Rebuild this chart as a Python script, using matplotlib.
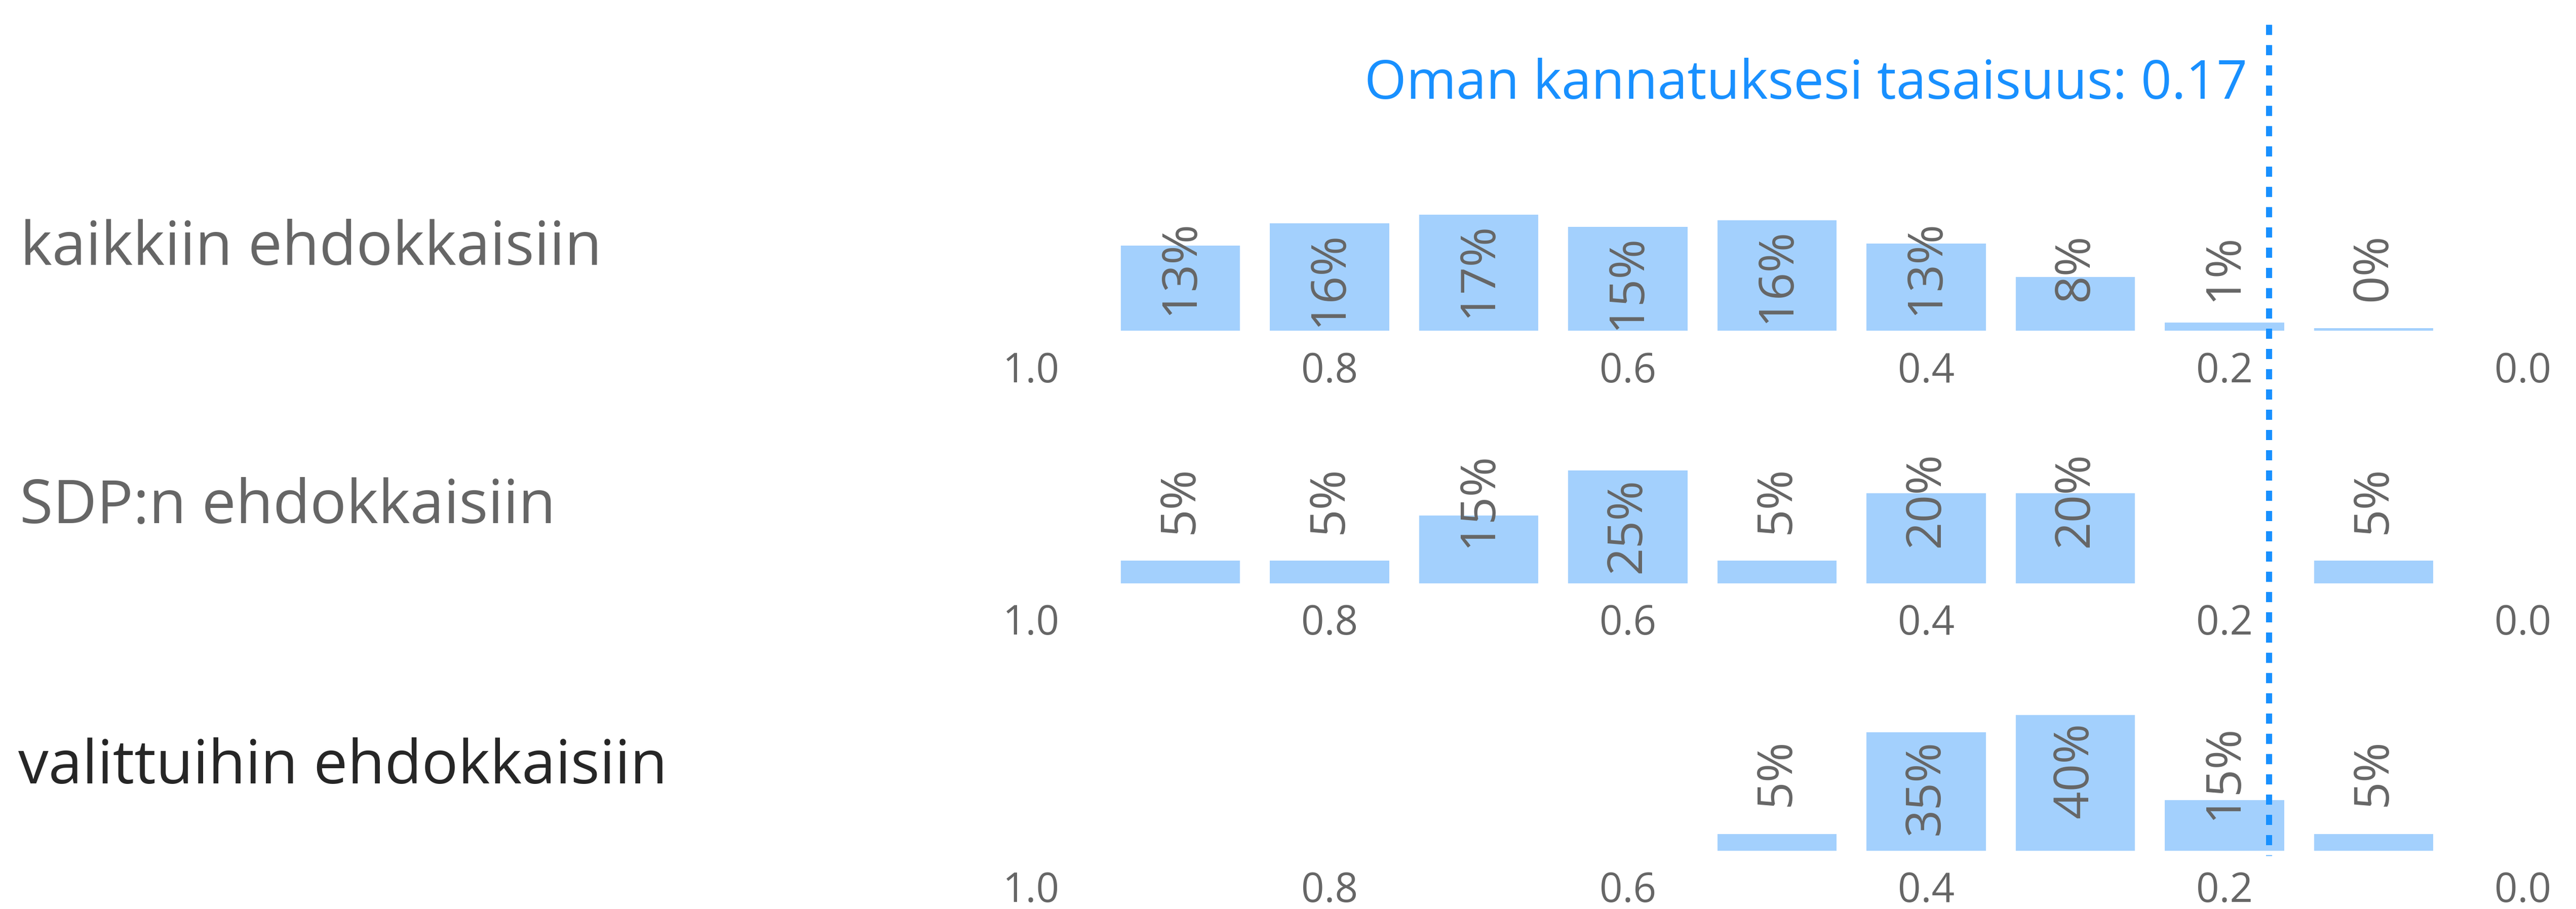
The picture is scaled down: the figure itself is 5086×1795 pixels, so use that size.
import matplotlib
matplotlib.use("Agg")
import matplotlib.pyplot as plt
import matplotlib.transforms as mtransforms
from matplotlib.lines import Line2D

plt.rcParams['font.family'] = ['Open Sans', 'DejaVu Sans']
plt.rcParams['lines.scale_dashes'] = False

# ---------------- data ----------------
bin_centers = [0.9, 0.8, 0.7, 0.6, 0.5, 0.4, 0.3, 0.2, 0.1]
row_labels = ["kaikkiin ehdokkaisiin", "SDP:n ehdokkaisiin", "valittuihin ehdokkaisiin"]
all_pct = [12.6, 15.9, 17.2, 15.4, 16.4, 12.9, 8.0, 1.2, 0.4]
sdp_pct = [5, 5, 15, 25, 5, 20, 20, 0, 5]
elected_pct = [0, 0, 0, 0, 5, 35, 40, 15, 5]
tick_values = [1.0, 0.8, 0.6, 0.4, 0.2, 0.0]
tick_labels = ["1.0", "0.8", "0.6", "0.4", "0.2", "0.0"]
own_evenness = 0.17
title_text = f"Oman kannatuksesi tasaisuus: {own_evenness:.2f}"

rows = [all_pct, sdp_pct, elected_pct]

# ---------------- style / layout ----------------
BAR = '#a3d0fd'
BLUE = '#1890ff'
GRAY = '#666666'
label_colors = ['#666666', '#666666', '#262626']

W, H = 5086, 1795
fig = plt.figure(figsize=(W / 100, H / 100), dpi=100)
renderer = fig.canvas.get_renderer()


def fx(x):
    return x / W


def fy(y):
    return 1 - y / H


def fit_size(text, target):
    t = fig.text(0, 0, text, fontsize=100)
    w = t.get_window_extent(renderer=renderer).width
    t.remove()
    return 100 * target / w


label_size = fit_size("kaikkiin ehdokkaisiin", 1148)
title_size = fit_size(title_text, 1745)
pct_size = fit_size("13%", 188)
tick_size = fit_size("0.0", 112)

axis_left_px, axis_width_px = 2036, 2945
baselines_px = [653, 1152, 1680]
heights_px = [250, 330, 310]
ylim_tops = [18.78, 37.0, 46.3]
label_baselines_px = [523, 1033, 1547]
label_left_px = [40, 39, 36]
pad_px = 15

axes = []
for i, vals in enumerate(rows):
    hpx = heights_px[i]
    ax = fig.add_axes([fx(axis_left_px), fy(baselines_px[i]),
                       axis_width_px / W, hpx / H])
    ax.set_xlim(1.0, 0.0)
    ytop = ylim_tops[i]
    ax.set_ylim(0, ytop)
    ax.bar(bin_centers, vals, width=0.08, color=BAR, zorder=2, linewidth=0)
    for x, v in zip(bin_centers, vals):
        if v <= 0:
            continue
        t = ax.text(x, ytop / 2, f"{round(v)}%", rotation=90, ha='center',
                    va='center', fontsize=pct_size, color=GRAY, zorder=3)
        L = t.get_window_extent(renderer=renderer).height
        bar_px = v / ytop * hpx
        if bar_px >= L + pad_px:
            t.set_y(v - pad_px * ytop / hpx)
            t.set_va('top')
    ax.set_xticks(tick_values, tick_labels)
    ax.tick_params(axis='x', length=0, pad=28.8, labelsize=tick_size,
                   labelcolor=GRAY)
    ax.set_yticks([])
    for s in ax.spines.values():
        s.set_visible(False)
    ax.patch.set_visible(False)
    axes.append(ax)

    fig.text(fx(label_left_px[i]), fy(label_baselines_px[i]), row_labels[i],
             ha='left', va='baseline', fontsize=label_size,
             color=label_colors[i])

# own evenness marker line spanning all rows
trans = mtransforms.blended_transform_factory(axes[0].transData, fig.transFigure)
line = Line2D([own_evenness, own_evenness], [fy(49), fy(1690)], transform=trans,
              color=BLUE, linewidth=8.6, dashes=(14.4, 14.4), zorder=5)
fig.add_artist(line)

fig.text(fx(4437), fy(195), title_text, ha='right', va='baseline',
         color=BLUE, fontsize=title_size)

fig.savefig("out.png", dpi=100)
